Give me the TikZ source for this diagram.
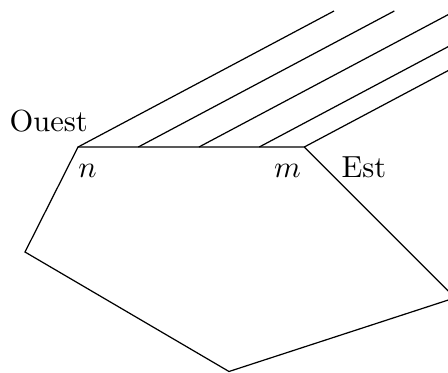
\documentclass[tikz,border=0pt]{standalone}
\begin{document}
\begin{tikzpicture}[x=0.328pt,y=-0.328pt,
  edge/.style={line width=0.4pt},
  lbl/.style={inner sep=0pt,anchor=base}]
\useasboundingbox (0,0) rectangle (448,373);
\clip (0,0) rectangle (448,373);
\coordinate (n) at (78,147);
\coordinate (h1) at (138.3,147);
\coordinate (h2) at (199,147);
\coordinate (h3) at (259.3,147);
\coordinate (m) at (304.3,147);
\coordinate (r) at (455.1,297.8);
\coordinate (b) at (229,371.5);
\coordinate (l) at (25,252);
\draw[edge,line join=miter] (n) -- (m) -- (r) -- (b) -- (l) -- cycle;
\foreach \p in {n,h1,h2,h3,m}{
  \draw[edge] (\p) -- ++(256,-136);
}
\node[lbl] (ouest) at (48.7,131) {Ouest};
\node[lbl] (est) at (364,177) {Est};
\node[lbl] (nl) at (87.5,177) {$n$};
\node[lbl] (ml) at (287.5,177) {$m$};
\end{tikzpicture}
\end{document}
